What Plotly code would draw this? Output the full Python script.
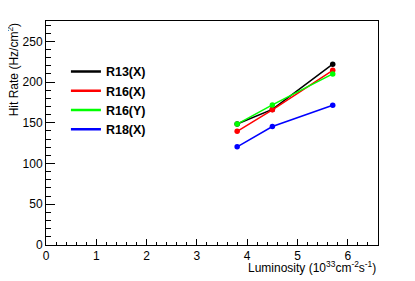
import plotly.graph_objects as go

luminosity = [3.8, 4.5, 5.7]
r13x = [148.5, 166.5, 222.0]
r16x = [139.5, 166.0, 214.5]
r16y = [148.5, 172.0, 210.0]
r18x = [120.5, 145.5, 171.5]

series = [
    ("R13(X)", r13x, "#000000"),
    ("R16(X)", r16x, "#ff0000"),
    ("R16(Y)", r16y, "#00ff00"),
    ("R18(X)", r18x, "#0000ff"),
]

FONT = "Liberation Sans, Arial, Helvetica, sans-serif"

fig = go.Figure()
for name, vals, col in series:
    fig.add_trace(go.Scatter(
        x=luminosity, y=vals, mode="lines+markers", name=name,
        line=dict(color=col, width=1.5),
        marker=dict(color=col, size=5.5, symbol="circle"),
        showlegend=False,
    ))
for name, vals, col in series:
    fig.add_trace(go.Scatter(
        x=[None], y=[None], mode="lines", name=name,
        line=dict(color=col, width=2.5),
        showlegend=True,
    ))

fig.update_layout(
    width=407, height=273,
    margin=dict(l=38, r=37, t=13, b=36),
    paper_bgcolor="white", plot_bgcolor="white",
    font=dict(family=FONT, size=12, color="black"),
    showlegend=True,
    legend=dict(
        x=0.06, y=0.84, xanchor="left", yanchor="top",
        bgcolor="rgba(0,0,0,0)", borderwidth=0,
        font=dict(family=FONT, size=12.5, color="black", weight="bold"),
        itemwidth=30, tracegroupgap=0,
    ),
    xaxis=dict(
        range=[0, 6.6], dtick=1, tick0=0,
        ticks="inside", ticklen=6, tickwidth=1, tickcolor="black",
        showline=True, linecolor="black", linewidth=1, mirror=True,
        showgrid=False, zeroline=False,
        tickfont=dict(family=FONT, size=12),
        minor=dict(dtick=0.2, ticks="inside", ticklen=3, tickcolor="black", showgrid=False),
    ),
    yaxis=dict(
        range=[0, 275], dtick=50, tick0=0,
        ticks="inside", ticklen=9, tickwidth=1, tickcolor="black",
        showline=True, linecolor="black", linewidth=1, mirror=True,
        showgrid=False, zeroline=False,
        tickfont=dict(family=FONT, size=12),
        minor=dict(dtick=10, ticks="inside", ticklen=5, tickcolor="black", showgrid=False),
    ),
    annotations=[
        dict(text="Hit Rate (Hz/cm<sup>2</sup>)", textangle=-90,
             xref="paper", yref="paper", x=-0.1, y=1.0,
             xanchor="center", yanchor="top", showarrow=False,
             font=dict(family=FONT, size=12, color="black")),
        dict(text="Luminosity (10<sup>33</sup>cm<sup>-2</sup>s<sup>-1</sup>)",
             xref="paper", yref="paper", x=1.0, y=-0.1,
             xanchor="right", yanchor="middle", showarrow=False,
             font=dict(family=FONT, size=12, color="black")),
    ],
)

fig.write_html("out.html")
